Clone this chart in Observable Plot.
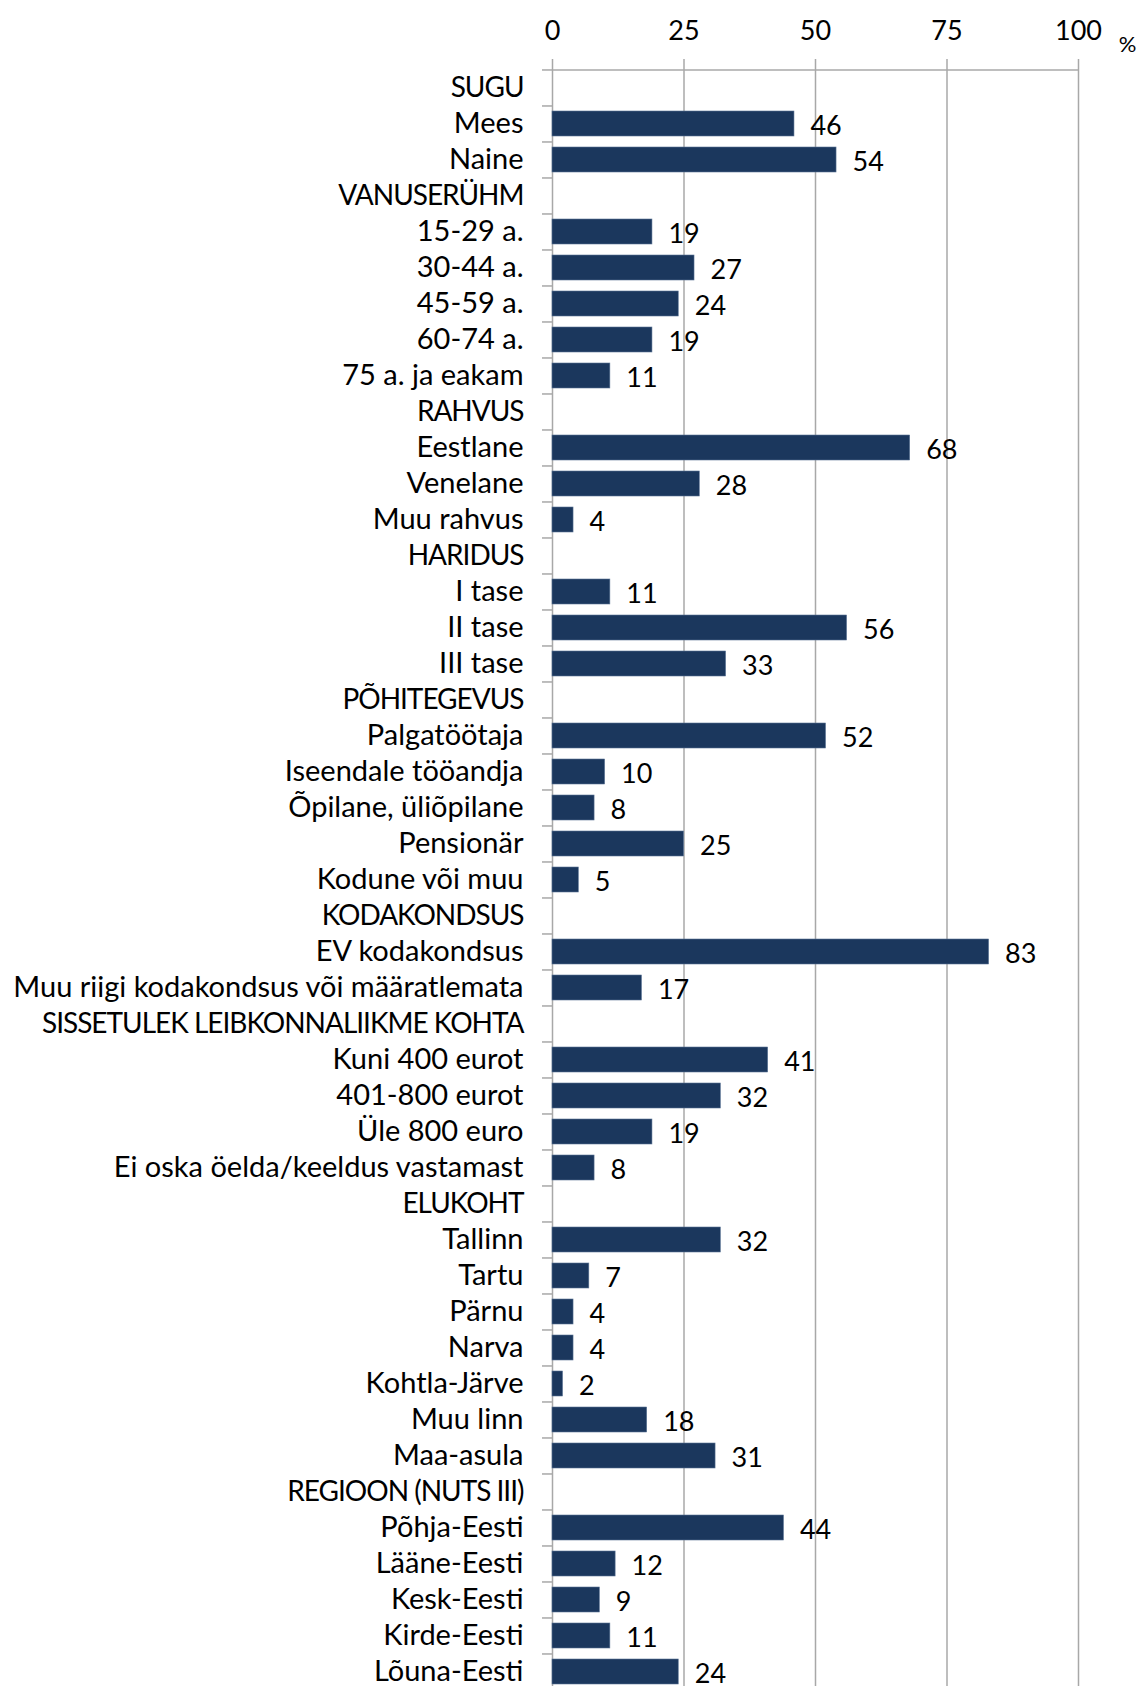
<!DOCTYPE html>
<html>
<head>
<meta charset="utf-8">
<script src="https://cdn.jsdelivr.net/npm/d3@7"></script>
<script src="https://cdn.jsdelivr.net/npm/@observablehq/plot@0.6"></script>
<style>
  html, body { margin: 0; padding: 0; background: #fff; overflow: hidden; }
  #chart svg { display: block; }
</style>
</head>
<body>
<div id="chart"></div>
<script>
const categories = [
  "SUGU", "Mees", "Naine",
  "VANUSERÜHM", "15-29 a.", "30-44 a.", "45-59 a.", "60-74 a.", "75 a. ja eakam",
  "RAHVUS", "Eestlane", "Venelane", "Muu rahvus",
  "HARIDUS", "I tase", "II tase", "III tase",
  "PÕHITEGEVUS", "Palgatöötaja", "Iseendale tööandja", "Õpilane, üliõpilane", "Pensionär", "Kodune või muu",
  "KODAKONDSUS", "EV kodakondsus", "Muu riigi kodakondsus või määratlemata",
  "SISSETULEK LEIBKONNALIIKME KOHTA", "Kuni 400 eurot", "401-800 eurot", "Üle 800 euro", "Ei oska öelda/keeldus vastamast",
  "ELUKOHT", "Tallinn", "Tartu", "Pärnu", "Narva", "Kohtla-Järve", "Muu linn", "Maa-asula",
  "REGIOON (NUTS III)", "Põhja-Eesti", "Lääne-Eesti", "Kesk-Eesti", "Kirde-Eesti", "Lõuna-Eesti"
];
const values = [
  null, 46, 54,
  null, 19, 27, 24, 19, 11,
  null, 68, 28, 4,
  null, 11, 56, 33,
  null, 52, 10, 8, 25, 5,
  null, 83, 17,
  null, 41, 32, 19, 8,
  null, 32, 7, 4, 4, 2, 18, 31,
  null, 44, 12, 9, 11, 24
];
const xTicks = [0, 25, 50, 75, 100];

const data = categories.map((c, i) => ({category: c, value: values[i]}));
const bars = data.filter(d => d.value != null);
const headers = data.filter(d => d.value == null).map(d => d.category);
const items = bars.map(d => d.category);

const W = 1140;
const marginTop = 69;
const stepPx = 36.05;
const H = Math.round(marginTop + stepPx * categories.length) + 1;
const marginLeft = 552, marginRight = 62;
const pxPerUnit = (W - marginLeft - marginRight) / 100;
const gridColor = "#a8a8a8";
const font = "Lato, 'Liberation Sans', sans-serif";

const chart = Plot.plot({
  width: W,
  height: H,
  marginTop,
  marginBottom: 1,
  marginLeft,
  marginRight,
  style: {fontFamily: font, fontSize: "27px", color: "#000", background: "#fff", overflow: "visible"},
  x: {domain: [0, 100]},
  y: {domain: categories, paddingInner: 0.3, paddingOuter: 0.15, align: 0.5},
  marks: [
    Plot.ruleX(xTicks, {stroke: gridColor, strokeWidth: 1.5, insetTop: -10}),
    Plot.ruleY([categories[0]], {x1: 0, x2: 100, dy: -stepPx / 2, stroke: gridColor, strokeWidth: 1.5}),
    Plot.ruleY(categories, {x1: -10 / pxPerUnit, x2: 0, dy: -stepPx / 2, stroke: gridColor, strokeWidth: 1.5}),
    Plot.barX(bars, {x: "value", y: "category", fill: "#1b375d", stroke: "#5a7394", strokeWidth: 0.6}),
    Plot.text(bars, {x: "value", y: "category", text: d => String(d.value), textAnchor: "start", dx: 16, dy: 2, fill: "#000", fontSize: 27}),
    Plot.axisY(items, {tickSize: 0, tickPadding: 29, fontSize: 29, label: null, color: "#000"}),
    Plot.axisY(headers, {tickSize: 0, tickPadding: 29, fontSize: 28, label: null, color: "#000"}),
    Plot.axisX(xTicks, {anchor: "top", tickSize: 0, tickPadding: 30, fontSize: 27, label: null, color: "#000"}),
    Plot.text(["%"], {x: () => 100, frameAnchor: "top", dx: 49, dy: -33, fontSize: 22, fill: "#000"})
  ]
});
// tighten the upper-case section headings slightly
const headerSet = new Set(headers);
d3.select(chart).selectAll("text").each(function() {
  if (headerSet.has(this.textContent)) this.style.letterSpacing = "-1px";
});
document.getElementById("chart").appendChild(chart);
</script>
</body>
</html>
